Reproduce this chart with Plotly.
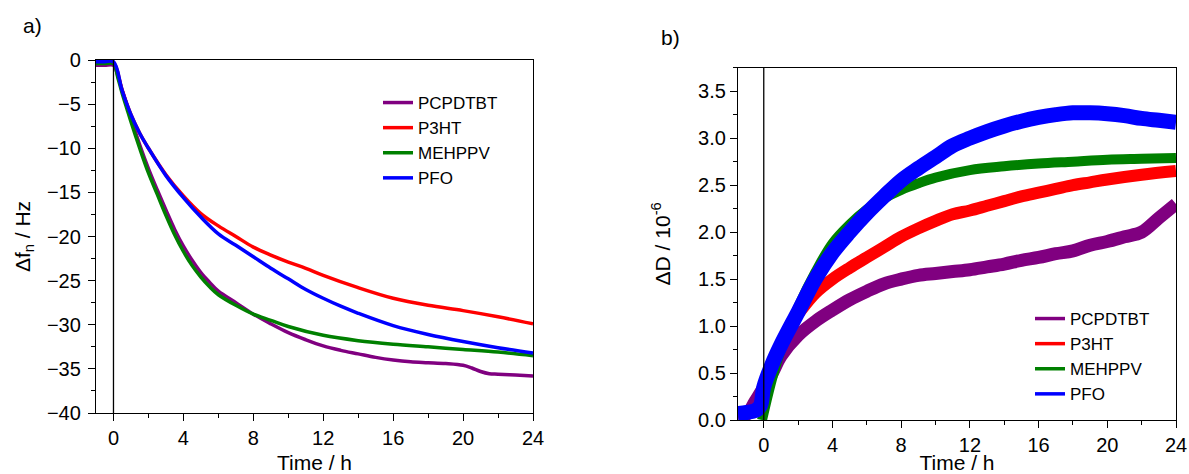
import plotly.graph_objects as go

# ---------------- Panel a: frequency shift (Hz) vs time (h) ----------------
names = ["PCPDTBT", "P3HT", "MEHPPV", "PFO"]
colors = ["#800080", "#ff0000", "#008000", "#0000ff"]

a_pcpdtbt_t = [-1, -0.5, 0, 0.25, 0.5, 0.75, 1, 1.5, 2, 2.5, 3, 3.5, 4, 4.5, 5, 5.5, 6, 7, 8, 9, 10, 11, 12, 13,
               14, 15, 16, 17, 18, 19, 20, 20.5, 21, 21.5, 22, 23, 24]
a_pcpdtbt_v = [-0.6, -0.6, -0.6, -1.8, -3.4, -5.0, -6.6, -9.6, -12.3, -14.7, -17.0, -19.2, -21.1, -22.7, -24.1,
               -25.2, -26.2, -27.5, -28.8, -29.9, -30.9, -31.7, -32.4, -32.9, -33.3, -33.7, -34.0, -34.2, -34.3,
               -34.4, -34.6, -34.9, -35.3, -35.55, -35.6, -35.7, -35.8]

a_p3ht_t = [-1, -0.5, 0, 0.5, 1, 1.5, 2, 3, 4, 5, 6, 7, 8, 9, 10, 11, 12, 14, 16, 18, 20, 22, 24]
a_p3ht_v = [-0.3, -0.3, -0.3, -3.5, -6.2, -8.3, -10.0, -13.0, -15.4, -17.4, -18.8, -20.0, -21.2, -22.1, -22.9,
            -23.6, -24.4, -25.8, -27.0, -27.8, -28.4, -29.1, -29.9]

a_mehppv_t = [-1, -0.5, 0, 0.25, 0.5, 0.75, 1, 1.5, 2, 2.5, 3, 3.5, 4, 4.5, 5, 5.5, 6, 7, 8, 9, 10, 12, 14, 16,
              18, 20, 22, 24]
a_mehppv_v = [-0.4, -0.4, -0.4, -2.0, -3.8, -5.4, -7.0, -10.0, -12.8, -15.2, -17.6, -19.8, -21.7, -23.3, -24.6,
              -25.7, -26.6, -27.8, -28.8, -29.5, -30.2, -31.2, -31.8, -32.2, -32.5, -32.8, -33.1, -33.5]

a_pfo_t = [-1, -0.5, 0, 0.5, 1, 1.5, 2, 3, 4, 5, 6, 7, 8, 9, 10, 11, 12, 13, 14, 16, 18, 20, 22, 24]
a_pfo_v = [-0.2, -0.2, -0.2, -3.5, -6.2, -8.3, -10.0, -13.1, -15.6, -17.8, -19.7, -21.0, -22.3, -23.6, -24.8,
           -26.0, -27.0, -27.9, -28.7, -30.1, -31.1, -31.9, -32.6, -33.2]

# ---------------- Panel b: dissipation shift (1e-6) vs time (h) ----------------
b_pcpdtbt_t = [-1.5, -1, -0.5, 0, 0.5, 1, 2, 3, 4, 5, 6, 7, 8, 9, 10, 11, 12, 13, 14, 15, 16, 17, 18, 19, 20,
               21, 22, 23, 24]
b_pcpdtbt_v = [0.03, 0.06, 0.2, 0.35, 0.5, 0.68, 0.9, 1.05, 1.17, 1.28, 1.37, 1.45, 1.5, 1.54, 1.56, 1.58, 1.6,
               1.63, 1.66, 1.7, 1.73, 1.77, 1.8, 1.86, 1.9, 1.95, 2.0, 2.15, 2.3]

b_p3ht_t = [0, 0.5, 1, 1.7, 2, 3, 4, 5, 6, 7, 8, 9, 10, 11, 12, 13, 14, 15, 16, 17, 18, 19, 20, 22, 24]
b_p3ht_v = [0.3, 0.55, 0.8, 1.06, 1.13, 1.35, 1.5, 1.62, 1.73, 1.84, 1.95, 2.04, 2.12, 2.19, 2.23, 2.28, 2.33,
            2.38, 2.42, 2.46, 2.5, 2.53, 2.56, 2.61, 2.65]

b_mehppv_t = [-0.1, 0, 0.5, 1, 2, 3, 4, 5, 6, 7, 8, 9, 10, 12, 14, 16, 18, 20, 22, 24]
b_mehppv_v = [0.0, 0.08, 0.45, 0.75, 1.2, 1.57, 1.88, 2.08, 2.24, 2.36, 2.45, 2.52, 2.58, 2.66, 2.7, 2.73, 2.75,
              2.77, 2.78, 2.79]

b_pfo_t = [-1.5, -1, -0.5, -0.2, 0, 0.5, 1, 2, 3, 4, 5, 6, 7, 8, 9, 10, 11, 12, 13, 14, 15, 16, 17, 18, 19, 20,
           21, 22, 23, 24]
b_pfo_v = [0.07, 0.08, 0.1, 0.15, 0.35, 0.6, 0.8, 1.15, 1.5, 1.78, 2.0, 2.2, 2.38, 2.55, 2.68, 2.8, 2.92, 3.0,
           3.07, 3.13, 3.18, 3.22, 3.25, 3.27, 3.27, 3.26, 3.24, 3.21, 3.19, 3.17]

a_data = [(a_pcpdtbt_t, a_pcpdtbt_v), (a_p3ht_t, a_p3ht_v), (a_mehppv_t, a_mehppv_v), (a_pfo_t, a_pfo_v)]
b_data = [(b_pcpdtbt_t, b_pcpdtbt_v), (b_p3ht_t, b_p3ht_v), (b_mehppv_t, b_mehppv_v), (b_pfo_t, b_pfo_v)]
b_widths = [13, 12, 10, 15]

W, H = 1189, 474
FONT = "Liberation Sans, Arial, sans-serif"

fig = go.Figure()
for i, (t, v) in enumerate(a_data):
    fig.add_trace(go.Scatter(x=t, y=v, mode="lines", line=dict(color=colors[i], width=3.5, shape="spline"),
                             showlegend=False, xaxis="x", yaxis="y"))
for i, (t, v) in enumerate(b_data):
    fig.add_trace(go.Scatter(x=t, y=v, mode="lines", line=dict(color=colors[i], width=b_widths[i], shape="spline"),
                             showlegend=False, xaxis="x2", yaxis="y2"))
# legend entries
for i, n in enumerate(names):
    fig.add_trace(go.Scatter(x=[None], y=[None], mode="lines", name=n, line=dict(color=colors[i], width=3.5),
                             xaxis="x", yaxis="y", legend="legend"))
for i, n in enumerate(names):
    fig.add_trace(go.Scatter(x=[None], y=[None], mode="lines", name=n, line=dict(color=colors[i], width=3.5),
                             xaxis="x2", yaxis="y2", legend="legend2"))


def px(x):
    return x / W


def py(y):
    return 1 - y / H


axis_common = dict(showline=True, linecolor="black", linewidth=1.3, mirror=True, ticks="outside",
                   tickcolor="black", tickwidth=1.3, ticklen=7, showgrid=False, zeroline=False, automargin=False,
                   tickfont=dict(family=FONT, size=20, color="black"))
minor_x = dict(dtick=2, tick0=0, ticks="outside", ticklen=4, tickcolor="black", tickwidth=1.3)

fig.update_layout(
    width=W, height=H, margin=dict(l=0, r=0, t=0, b=0, autoexpand=False),
    paper_bgcolor="white", plot_bgcolor="white",
    font=dict(family=FONT, color="black"),
    xaxis=dict(domain=[px(96), px(533)], range=[-1, 24], tick0=0, dtick=4, anchor="y", minor=minor_x,
               title=dict(text="Time / h", font=dict(family=FONT, size=21), standoff=8), **axis_common),
    yaxis=dict(domain=[py(413), py(60)], range=[-40, 0], tick0=0, dtick=5, anchor="x", ticklabelstandoff=3,
               minor=dict(dtick=2.5, tick0=0, ticks="outside", ticklen=4, tickcolor="black", tickwidth=1.3),
               title=dict(text="Δf<sub>n</sub> / Hz", font=dict(family=FONT, size=21), standoff=10),
               **axis_common),
    xaxis2=dict(domain=[px(738), px(1176)], range=[-1.5, 24], tick0=0, dtick=4, anchor="y2", minor=minor_x,
                title=dict(text="Time / h", font=dict(family=FONT, size=21), standoff=13), **axis_common),
    yaxis2=dict(domain=[py(420), py(67.7)], range=[0, 3.75], tick0=0, dtick=0.5, tickformat=".1f", anchor="x2",
                minor=dict(dtick=0.25, tick0=0, ticks="outside", ticklen=4, tickcolor="black", tickwidth=1.3),
                title=dict(text="ΔD / 10<sup>-6</sup>", font=dict(family=FONT, size=21), standoff=21),
                **axis_common),
    legend=dict(x=px(378), y=py(85), xanchor="left", yanchor="top", bgcolor="rgba(0,0,0,0)",
                font=dict(family=FONT, size=17, color="black")),
    legend2=dict(x=px(1030), y=py(301), xanchor="left", yanchor="top", bgcolor="rgba(0,0,0,0)",
                 font=dict(family=FONT, size=17, color="black")),
    shapes=[
        dict(type="line", xref="x", yref="y domain", x0=0, x1=0, y0=0, y1=1, line=dict(color="black", width=1.3)),
        dict(type="line", xref="x2", yref="y2 domain", x0=0, x1=0, y0=0, y1=1,
             line=dict(color="black", width=1.3)),
    ],
    annotations=[
        dict(text="a)", x=px(32), y=py(25), xref="paper", yref="paper", xanchor="center", yanchor="middle",
             showarrow=False, font=dict(family=FONT, size=21, color="black")),
        dict(text="b)", x=px(670), y=py(37), xref="paper", yref="paper", xanchor="center", yanchor="middle",
             showarrow=False, font=dict(family=FONT, size=21, color="black")),
    ],
)

fig.write_html("out.html", config={"displayModeBar": False},
               post_script="document.body.style.margin='0';document.body.style.overflow='hidden';")
